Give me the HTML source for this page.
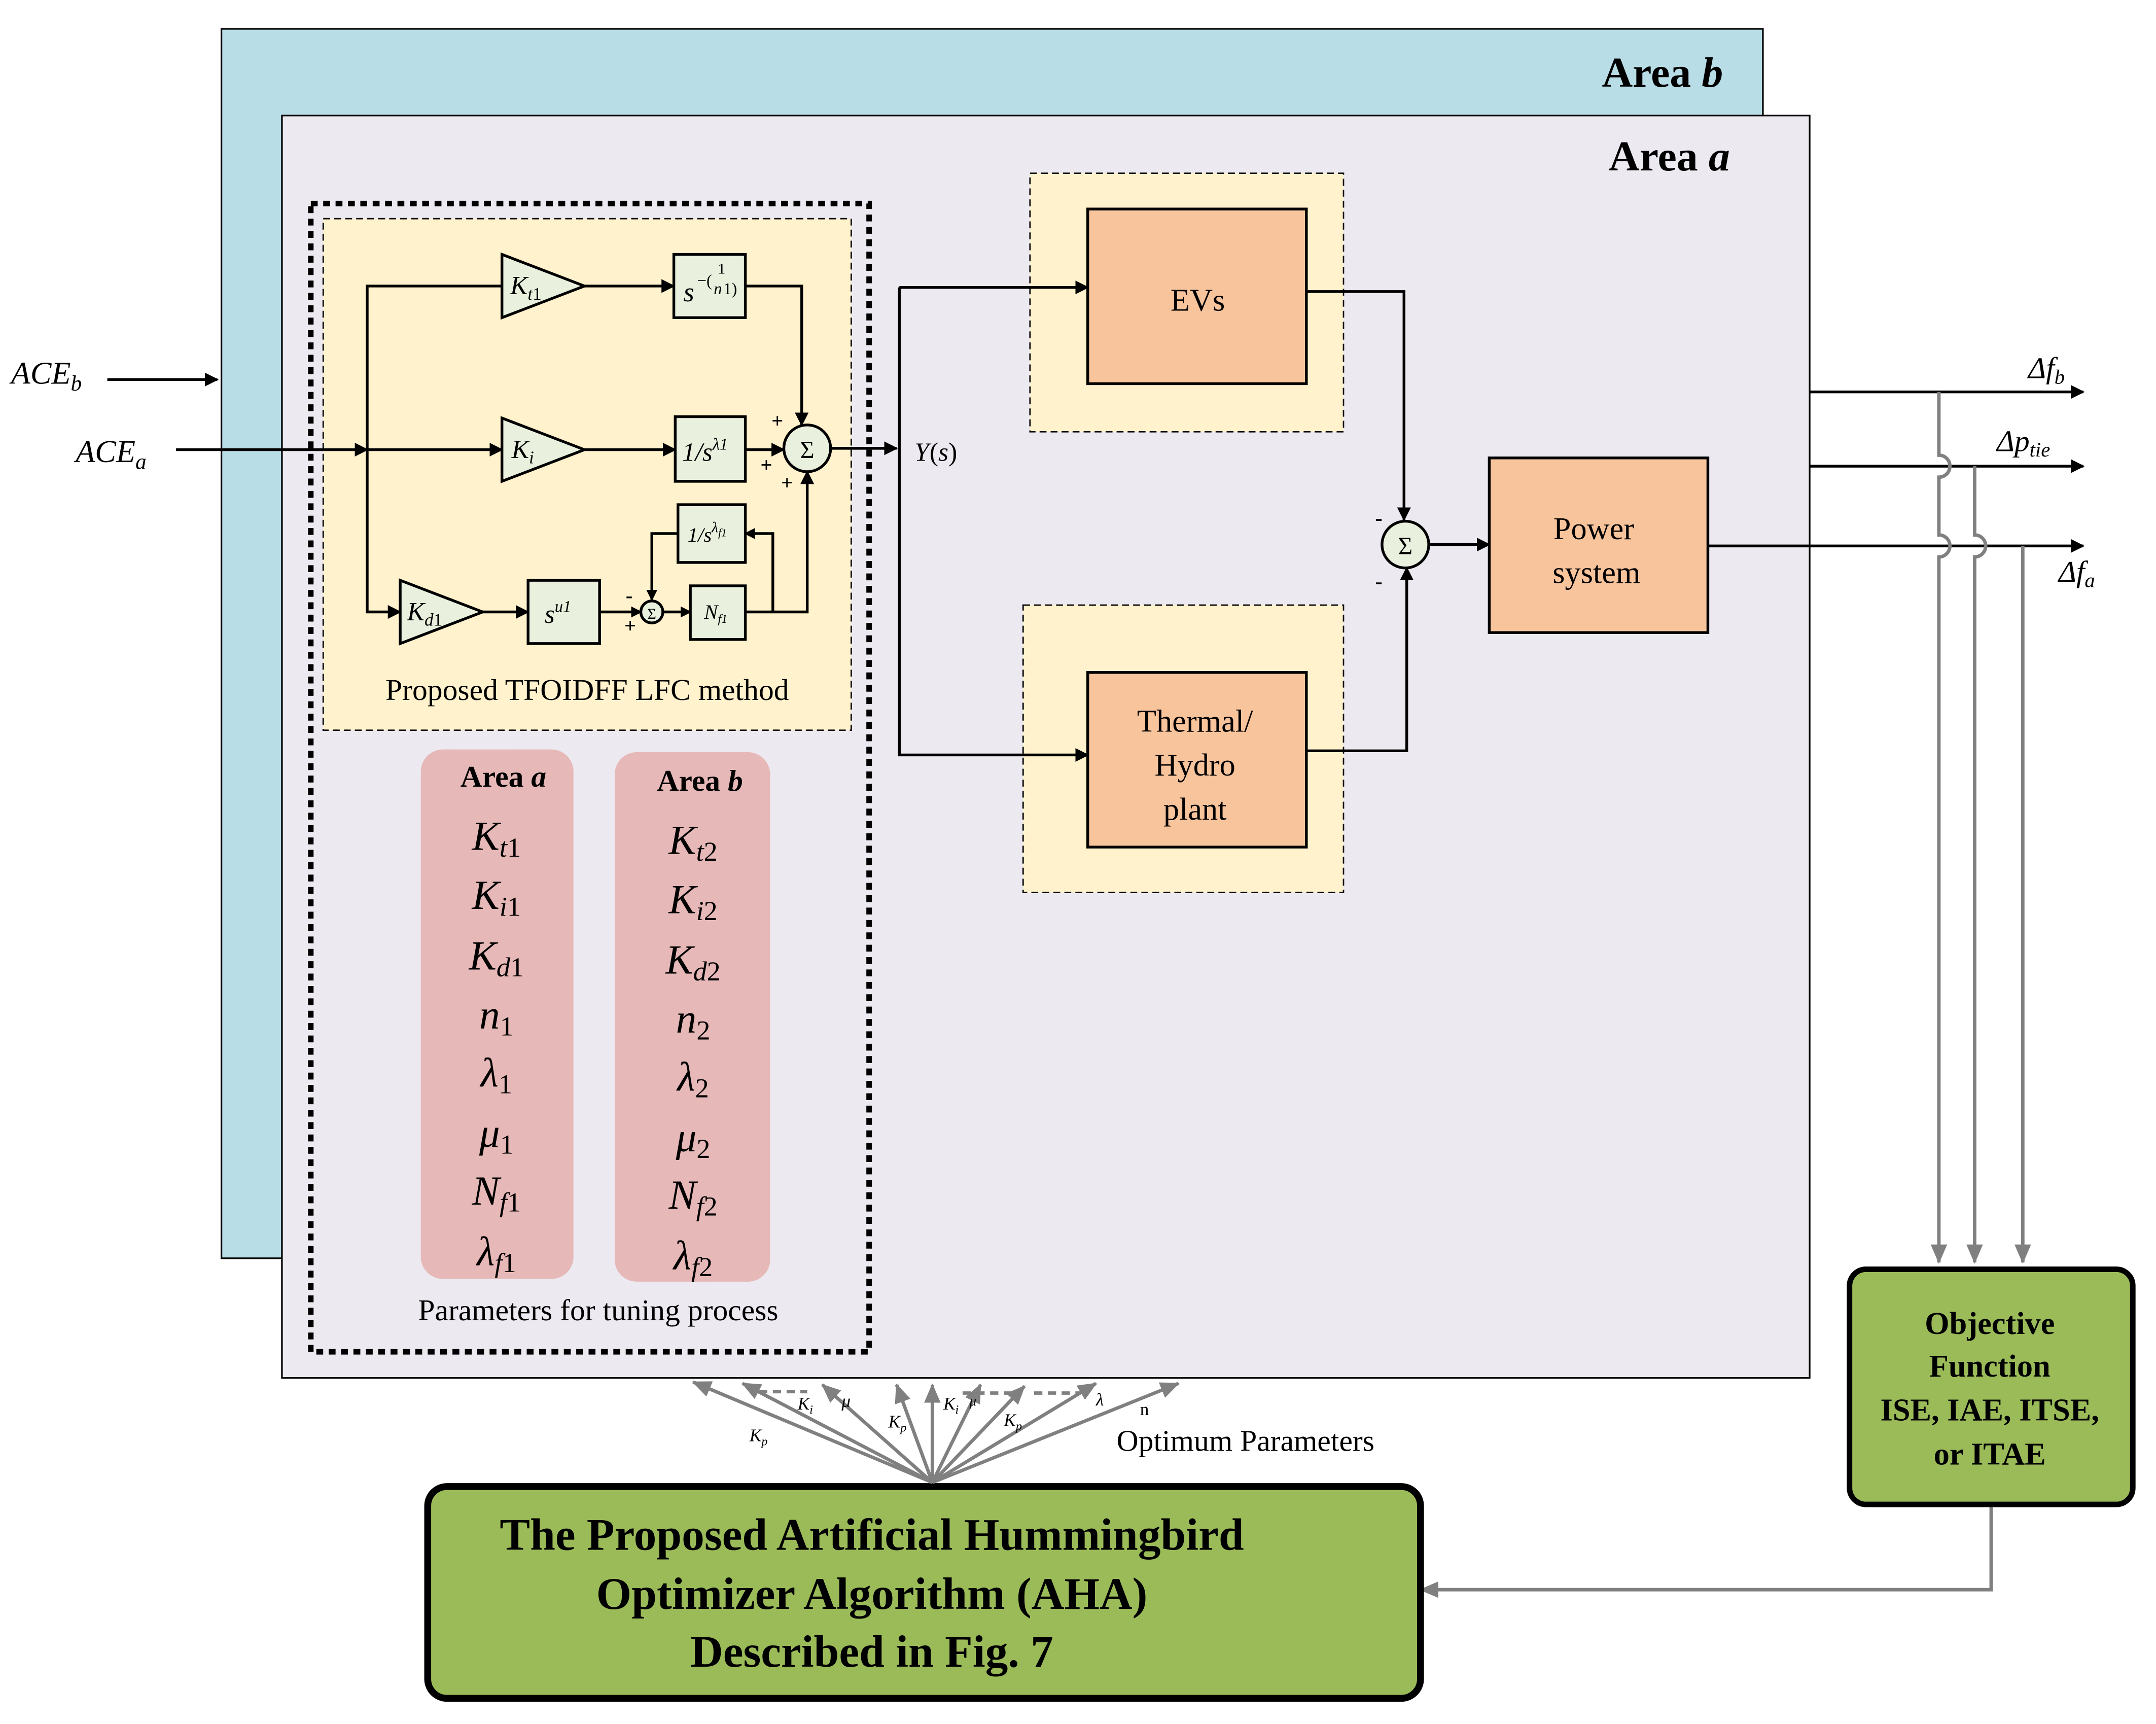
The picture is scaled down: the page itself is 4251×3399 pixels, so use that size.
<!DOCTYPE html>
<html><head><meta charset="utf-8"><style>
html,body{margin:0;padding:0;background:#fff;}
svg{display:block;}
text{font-family:"Liberation Serif",serif;}
.i{font-style:italic;}
.b{font-weight:bold;}
</style></head><body>
<svg width="4251" height="3399" viewBox="0 0 1560 1247.4" xmlns="http://www.w3.org/2000/svg">
<defs>
<marker id="ar" markerWidth="10" markerHeight="10" refX="9" refY="5" orient="auto" markerUnits="userSpaceOnUse"><path d="M0,0 L10,5 L0,10z" fill="#000"/></marker>
<marker id="arg" markerWidth="14" markerHeight="12" refX="13" refY="6" orient="auto" markerUnits="userSpaceOnUse"><path d="M0,0 L14,6 L0,12z" fill="#808080"/></marker>
<marker id="as" markerWidth="8" markerHeight="8" refX="7" refY="4" orient="auto" markerUnits="userSpaceOnUse"><path d="M0,0 L8,4 L0,8z" fill="#000"/></marker>
</defs>
<rect width="1560" height="1248" fill="#fff"/>
<g transform="scale(0.995)">
<!-- Area b -->
<rect x="161" y="21" width="1121" height="894" fill="#b8dde6" stroke="#000" stroke-width="1.2"/>
<text x="1253" y="63" text-anchor="end" font-size="31" class="b">Area <tspan class="i">b</tspan></text>
<!-- Area a -->
<rect x="205" y="84" width="1111" height="918" fill="#ece9f1" stroke="#000" stroke-width="1.2"/>
<text x="1258" y="124" text-anchor="end" font-size="31" class="b">Area <tspan class="i">a</tspan></text>
<!-- dotted outer -->
<rect x="226" y="148" width="406" height="835" fill="none" stroke="#000" stroke-width="4" stroke-dasharray="5,4"/>
<rect x="235" y="159" width="384" height="372" fill="#fff2cc" stroke="#000" stroke-width="1" stroke-dasharray="5,3"/>
<!-- ACE inputs -->
<text x="8" y="279" font-size="23" class="i">ACE<tspan font-size="16" dy="5">b</tspan></text>
<line x1="78" y1="276" x2="158" y2="276" stroke="#000" stroke-width="2" marker-end="url(#ar)"/>
<text x="55" y="336" font-size="23" class="i">ACE<tspan font-size="16" dy="5">a</tspan></text>
<line x1="128" y1="327" x2="267" y2="327" stroke="#000" stroke-width="2" marker-end="url(#ar)"/>
<g stroke="#000" stroke-width="2" fill="none">
<polyline points="365,208 267,208 267,445 291,445" marker-end="url(#ar)"/>
<line x1="267" y1="327" x2="365" y2="327" marker-end="url(#ar)"/>
<line x1="425" y1="208" x2="490" y2="208" marker-end="url(#ar)"/>
<polyline points="542,208 583,208 583,309" marker-end="url(#ar)"/>
<line x1="425" y1="327" x2="491" y2="327" marker-end="url(#ar)"/>
<line x1="542" y1="327" x2="570" y2="327" marker-end="url(#ar)"/>
<line x1="351" y1="445" x2="384" y2="445" marker-end="url(#ar)"/>
<line x1="436" y1="445" x2="466" y2="445" marker-end="url(#as)"/>
<line x1="482" y1="445" x2="502" y2="445" marker-end="url(#as)"/>
<polyline points="542,445 587,445 587,343" marker-end="url(#ar)"/>
<polyline points="562,445 562,388 542,388" marker-end="url(#as)"/>
<polyline points="493,388 474,388 474,436" marker-end="url(#as)"/>
<line x1="604" y1="326" x2="652" y2="326" marker-end="url(#ar)"/>
</g>
<g fill="#e9f0dd" stroke="#000" stroke-width="2">
<polygon points="365,185 425,208 365,231"/>
<polygon points="365,304 425,327 365,350"/>
<polygon points="291,422 351,445 291,468"/>
<rect x="490" y="185" width="52" height="46"/>
<rect x="491" y="303" width="51" height="47"/>
<rect x="384" y="422" width="52" height="46"/>
<rect x="493" y="367" width="49" height="42"/>
<rect x="502" y="426" width="40" height="39"/>
<circle cx="587" cy="326" r="17"/>
<circle cx="474" cy="445" r="8"/>
</g>
<text x="371" y="214" font-size="19" class="i">K<tspan font-size="13" dy="4">t</tspan><tspan font-size="13" font-style="normal">1</tspan></text>
<text x="372" y="333" font-size="19" class="i">K<tspan font-size="13" dy="4">i</tspan></text>
<text x="296" y="451" font-size="19" class="i">K<tspan font-size="13" dy="4">d</tspan><tspan font-size="13" font-style="normal">1</tspan></text>
<text x="497" y="219" font-size="20" class="i">s</text><text x="507" y="208" font-size="12">−(</text><text x="522" y="199" font-size="11">1</text><text x="519" y="214" font-size="12" class="i">n</text><text x="526" y="214" font-size="12">1)</text>
<text x="496" y="335" font-size="19" class="i">1/s<tspan font-size="12" dy="-8">λ1</tspan></text>
<text x="396" y="453" font-size="19" class="i">s<tspan font-size="12" dy="-8">u1</tspan></text>
<text x="500" y="394" font-size="15" class="i">1/s<tspan font-size="11" dy="-7">λ</tspan><tspan font-size="8" dy="3">f1</tspan></text>
<text x="512" y="450" font-size="15" class="i">N<tspan font-size="9" dy="3">f1</tspan></text>
<text x="587" y="333" font-size="18" text-anchor="middle">Σ</text>
<text x="474" y="450" font-size="11" text-anchor="middle">Σ</text>
<g font-size="15" class="b"><text x="561" y="311">+</text><text x="553" y="343">+</text><text x="568" y="356">+</text><text x="455" y="438">-</text><text x="454" y="460">+</text></g>
<text x="427" y="509" font-size="22" text-anchor="middle">Proposed TFOIDFF LFC method</text>
<text x="665" y="335" font-size="19" class="i">Y</text><text x="676" y="335" font-size="19">(<tspan class="i">s</tspan>)</text>
<rect x="306" y="545" width="111" height="385" rx="16" fill="#e6b8b7"/>
<rect x="447" y="547" width="113" height="385" rx="16" fill="#e6b8b7"/>
<text x="366" y="572" font-size="22" class="b" text-anchor="middle">Area <tspan class="i">a</tspan></text>
<text x="509" y="575" font-size="22" class="b" text-anchor="middle">Area <tspan class="i">b</tspan></text>
<g font-size="30" class="i" text-anchor="middle">
<text x="361" y="618">K<tspan font-size="20" dy="5">t</tspan><tspan font-size="20" font-style="normal">1</tspan></text>
<text x="361" y="661">K<tspan font-size="20" dy="5">i</tspan><tspan font-size="20" font-style="normal">1</tspan></text>
<text x="361" y="705">K<tspan font-size="20" dy="5">d</tspan><tspan font-size="20" font-style="normal">1</tspan></text>
<text x="361" y="748">n<tspan font-size="20" dy="5" font-style="normal">1</tspan></text>
<text x="361" y="790">λ<tspan font-size="20" dy="5" font-style="normal">1</tspan></text>
<text x="361" y="834">μ<tspan font-size="20" dy="5" font-style="normal">1</tspan></text>
<text x="361" y="876">N<tspan font-size="20" dy="5">f</tspan><tspan font-size="20" font-style="normal">1</tspan></text>
<text x="361" y="920">λ<tspan font-size="20" dy="5">f</tspan><tspan font-size="20" font-style="normal">1</tspan></text>
<text x="504" y="621">K<tspan font-size="20" dy="5">t</tspan><tspan font-size="20" font-style="normal">2</tspan></text>
<text x="504" y="664">K<tspan font-size="20" dy="5">i</tspan><tspan font-size="20" font-style="normal">2</tspan></text>
<text x="504" y="708">K<tspan font-size="20" dy="5">d</tspan><tspan font-size="20" font-style="normal">2</tspan></text>
<text x="504" y="751">n<tspan font-size="20" dy="5" font-style="normal">2</tspan></text>
<text x="504" y="793">λ<tspan font-size="20" dy="5" font-style="normal">2</tspan></text>
<text x="504" y="837">μ<tspan font-size="20" dy="5" font-style="normal">2</tspan></text>
<text x="504" y="879">N<tspan font-size="20" dy="5">f</tspan><tspan font-size="20" font-style="normal">2</tspan></text>
<text x="504" y="923">λ<tspan font-size="20" dy="5">f</tspan><tspan font-size="20" font-style="normal">2</tspan></text>
</g>
<text x="435" y="960" font-size="22" text-anchor="middle">Parameters for tuning process</text>
<rect x="749" y="126" width="228" height="188" fill="#fff2cc" stroke="#000" stroke-width="1" stroke-dasharray="5,3"/>
<rect x="744" y="440" width="233" height="209" fill="#fff2cc" stroke="#000" stroke-width="1" stroke-dasharray="5,3"/>
<g fill="#f8c49c" stroke="#000" stroke-width="2">
<rect x="791" y="152" width="159" height="127"/>
<rect x="791" y="489" width="159" height="127"/>
<rect x="1083" y="333" width="159" height="127"/>
<circle cx="1022" cy="396" r="17" fill="#e9f0dd"/>
</g>
<text x="871" y="226" font-size="23" text-anchor="middle">EVs</text>
<g font-size="23" text-anchor="middle"><text x="869" y="532">Thermal/</text><text x="869" y="564">Hydro</text><text x="869" y="596">plant</text>
<text x="1159" y="392">Power</text><text x="1161" y="424">system</text></g>
<text x="1022" y="403" font-size="18" text-anchor="middle">Σ</text>
<g font-size="16" class="b"><text x="1000" y="382">-</text><text x="1000" y="428">-</text></g>
<g stroke="#000" stroke-width="2" fill="none">
<polyline points="654,209 791,209" marker-end="url(#ar)"/>
<polyline points="654,209 654,549 791,549" marker-end="url(#ar)"/>
<polyline points="950,212 1021,212 1021,378" marker-end="url(#ar)"/>
<polyline points="950,546 1023,546 1023,413" marker-end="url(#ar)"/>
<line x1="1039" y1="396" x2="1083" y2="396" marker-end="url(#ar)"/>
<line x1="1242" y1="397" x2="1515" y2="397" marker-end="url(#ar)"/>
<line x1="1316" y1="285" x2="1515" y2="285" marker-end="url(#ar)"/>
<line x1="1316" y1="339" x2="1515" y2="339" marker-end="url(#ar)"/>
</g>
<text x="1475" y="275" font-size="22" class="i">Δf<tspan font-size="15" dy="4">b</tspan></text>
<text x="1452" y="328" font-size="22" class="i">Δp<tspan font-size="15" dy="4">tie</tspan></text>
<text x="1497" y="423" font-size="22" class="i">Δf<tspan font-size="15" dy="4">a</tspan></text>
<g stroke="#808080" stroke-width="2.5" fill="none">
<path d="M1410,285 V331 A8,8 0 0 1 1410,347 V389 A8,8 0 0 1 1410,405 V918" marker-end="url(#arg)"/>
<path d="M1436,339 V389 A8,8 0 0 1 1436,405 V918" marker-end="url(#arg)"/>
<path d="M1471,397 V918" marker-end="url(#arg)"/>
<polyline points="1448,1094 1448,1156 1033,1156" marker-end="url(#arg)"/>
</g>
<rect x="1345" y="923" width="206" height="171" rx="12" fill="#9bbb59" stroke="#000" stroke-width="4"/>
<g font-size="23" class="b" text-anchor="middle"><text x="1447" y="970">Objective</text><text x="1447" y="1001">Function</text><text x="1447" y="1033">ISE, IAE, ITSE,</text><text x="1447" y="1065">or ITAE</text></g>
<rect x="311" y="1081" width="722" height="154" rx="14" fill="#9bbb59" stroke="#000" stroke-width="5"/>
<g font-size="33" class="b" text-anchor="middle"><text x="634" y="1127">The Proposed Artificial Hummingbird</text><text x="634" y="1170">Optimizer Algorithm (AHA)</text><text x="634" y="1212">Described in Fig. 7</text></g>
<g stroke="#808080" stroke-width="2.5" fill="none">
<line x1="678" y1="1078" x2="504" y2="1005" marker-end="url(#arg)"/>
<line x1="678" y1="1078" x2="540" y2="1006" marker-end="url(#arg)"/>
<line x1="678" y1="1078" x2="598" y2="1007" marker-end="url(#arg)"/>
<line x1="678" y1="1078" x2="652" y2="1007" marker-end="url(#arg)"/>
<line x1="678" y1="1078" x2="678" y2="1007" marker-end="url(#arg)"/>
<line x1="678" y1="1078" x2="713" y2="1007" marker-end="url(#arg)"/>
<line x1="678" y1="1078" x2="745" y2="1008" marker-end="url(#arg)"/>
<line x1="678" y1="1078" x2="797" y2="1006" marker-end="url(#arg)"/>
<line x1="678" y1="1078" x2="857" y2="1006" marker-end="url(#arg)"/>
<line x1="552" y1="1012" x2="587" y2="1012" stroke-dasharray="6,4"/>
<line x1="700" y1="1013" x2="740" y2="1013" stroke-dasharray="6,4"/>
<line x1="752" y1="1013" x2="785" y2="1013" stroke-dasharray="6,4"/>
</g>
<g font-size="13" class="i">
<text x="545" y="1048" font-family="Liberation Sans,sans-serif">K<tspan font-size="9" dy="3">p</tspan></text>
<text x="580" y="1025" font-family="Liberation Sans,sans-serif">K<tspan font-size="9" dy="3">i</tspan></text>
<text x="612" y="1023" font-family="Liberation Sans,sans-serif">μ</text>
<text x="646" y="1038" font-family="Liberation Sans,sans-serif">K<tspan font-size="9" dy="3">p</tspan></text>
<text x="686" y="1025" font-family="Liberation Sans,sans-serif">K<tspan font-size="9" dy="3">i</tspan></text>
<text x="705" y="1022" font-family="Liberation Sans,sans-serif" font-size="10">μ</text>
<text x="730" y="1037" font-family="Liberation Sans,sans-serif">K<tspan font-size="9" dy="3">p</tspan></text>
<text x="797" y="1022" font-family="Liberation Sans,sans-serif">λ</text>
<text x="829" y="1029" font-family="Liberation Sans,sans-serif" font-style="normal">n</text>
</g>
<text x="812" y="1055" font-size="22">Optimum Parameters</text>
</g>
</svg>
</body></html>
